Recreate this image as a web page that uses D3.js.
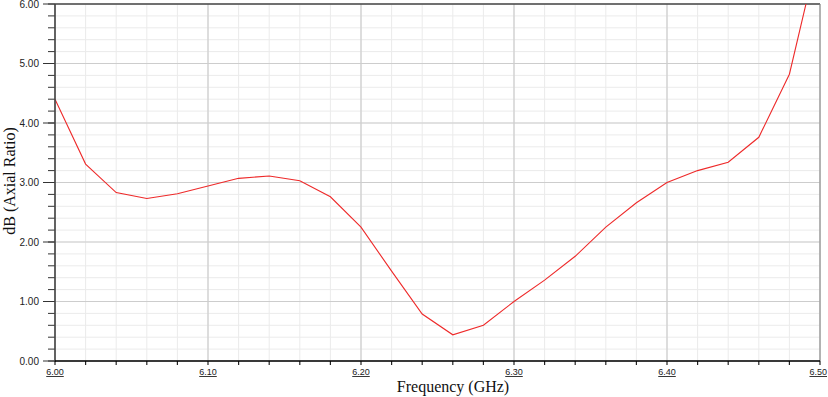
<!DOCTYPE html>
<html>
<head>
<meta charset="utf-8">
<script src="https://cdn.jsdelivr.net/npm/d3@7"></script>
<style>
  body { margin: 0; background: #fff; }
  svg { display: block; }
</style>
</head>
<body>
<svg id="chart" width="828" height="397"></svg>
<script>
// frequency samples (GHz) and axial ratio (dB)
const freqs = [6.00, 6.02, 6.04, 6.06, 6.08, 6.10, 6.12, 6.14, 6.16, 6.18, 6.20,
  6.22, 6.24, 6.26, 6.28, 6.30, 6.32, 6.34, 6.36, 6.38, 6.40,
  6.42, 6.44, 6.46, 6.48, 6.50];
const axialRatio = [4.40, 3.31, 2.83, 2.73, 2.81, 2.94, 3.07, 3.11, 3.03, 2.76, 2.25,
  1.51, 0.79, 0.44, 0.60, 1.00, 1.36, 1.76, 2.25, 2.66, 3.00,
  3.20, 3.34, 3.76, 4.82, 7.00];
const xTicks = [6.00, 6.10, 6.20, 6.30, 6.40, 6.50];
const yTicks = [0, 1, 2, 3, 4, 5, 6];

const svg = d3.select('#chart'),
  pLeft = 55, pRight = 820, pTop = 4, pBottom = 361;

const x = d3.scaleLinear().domain([6.0, 6.5]).range([pLeft, pRight]);
const y = d3.scaleLinear().domain([0, 6]).range([pBottom, pTop]);

const minorX = d3.range(0, 26).map(i => 6.0 + i * 0.02);
const minorY = d3.range(0, 31).map(i => i * 0.2);

// grid
const grid = svg.append('g');
grid.selectAll('.vminor').data(minorX).join('line')
  .attr('x1', d => x(d)).attr('x2', d => x(d))
  .attr('y1', pTop).attr('y2', pBottom)
  .style('stroke', '#ebebeb').style('stroke-width', 1);
grid.selectAll('.hminor').data(minorY).join('line')
  .attr('y1', d => y(d)).attr('y2', d => y(d))
  .attr('x1', pLeft).attr('x2', pRight)
  .style('stroke', '#ebebeb').style('stroke-width', 1);
grid.selectAll('.vmajor').data(xTicks).join('line')
  .attr('x1', d => x(d)).attr('x2', d => x(d))
  .attr('y1', pTop).attr('y2', pBottom)
  .style('stroke', '#cdcdcd').style('stroke-width', 1.2);
grid.selectAll('.hmajor').data(yTicks).join('line')
  .attr('y1', d => y(d)).attr('y2', d => y(d))
  .attr('x1', pLeft).attr('x2', pRight)
  .style('stroke', '#cdcdcd').style('stroke-width', 1.2);

// frame: black top, grey right
svg.append('line').attr('x1', pLeft).attr('x2', pRight).attr('y1', pTop).attr('y2', pTop)
  .style('stroke', '#000').style('stroke-width', 1.2);
svg.append('line').attr('x1', pRight).attr('x2', pRight).attr('y1', pTop).attr('y2', pBottom)
  .style('stroke', '#888').style('stroke-width', 1);

// data line, clipped to plot
svg.append('clipPath').attr('id', 'clip').append('rect')
  .attr('x', pLeft).attr('y', pTop).attr('width', pRight - pLeft).attr('height', pBottom - pTop);

const line = d3.line().x(d => x(d[0])).y(d => y(d[1]));
svg.append('path')
  .datum(d3.zip(freqs, axialRatio))
  .attr('clip-path', 'url(#clip)')
  .attr('d', line)
  .style('fill', 'none')
  .style('stroke', '#ee2a2a')
  .style('stroke-width', 1.1);

// y axis
const yAxis = svg.append('g');
yAxis.selectAll('.ymin').data(minorY).join('line')
  .attr('x1', pLeft - 7).attr('x2', pLeft)
  .attr('y1', d => y(d)).attr('y2', d => y(d))
  .style('stroke', '#333').style('stroke-width', 1);
yAxis.selectAll('.ymaj').data(yTicks).join('line')
  .attr('x1', pLeft - 12).attr('x2', pLeft)
  .attr('y1', d => y(d)).attr('y2', d => y(d))
  .style('stroke', '#333').style('stroke-width', 1);
yAxis.append('line').attr('x1', pLeft).attr('x2', pLeft).attr('y1', pTop).attr('y2', pBottom + 1)
  .style('stroke', '#444').style('stroke-width', 1.6);
yAxis.selectAll('text').data(yTicks).join('text')
  .attr('x', pLeft - 16).attr('y', d => y(d) + 3.5)
  .attr('text-anchor', 'end')
  .style('font-family', '"Liberation Sans", Arial, sans-serif')
  .style('font-size', '10px')
  .style('fill', '#222')
  .text(d => d3.format('.2f')(d));

// x axis
const xAxis = svg.append('g');
xAxis.selectAll('.xmin').data(minorX).join('line')
  .attr('x1', d => x(d)).attr('x2', d => x(d))
  .attr('y1', pBottom).attr('y2', pBottom + 4)
  .style('stroke', '#222').style('stroke-width', 1.2);
xAxis.append('line').attr('x1', pLeft).attr('x2', pRight).attr('y1', pBottom).attr('y2', pBottom)
  .style('stroke', '#000').style('stroke-width', 1.6);
xAxis.selectAll('text').data(xTicks).join('text')
  .attr('x', (d, i) => i === xTicks.length - 1 ? 827 : x(d))
  .attr('y', pBottom + 14)
  .attr('text-anchor', (d, i) => i === xTicks.length - 1 ? 'end' : 'middle')
  .style('font-family', '"Liberation Sans", Arial, sans-serif')
  .style('font-size', '9px')
  .style('text-decoration', 'underline')
  .style('fill', '#222')
  .text(d => d3.format('.2f')(d));

// titles
svg.append('text')
  .attr('x', 453).attr('y', 392)
  .attr('text-anchor', 'middle')
  .style('font-family', '"Liberation Serif", "Times New Roman", serif')
  .style('font-size', '16px')
  .style('fill', '#111')
  .text('Frequency (GHz)');
svg.append('text')
  .attr('transform', 'translate(15,181) rotate(-90)')
  .attr('text-anchor', 'middle')
  .style('font-family', '"Liberation Serif", "Times New Roman", serif')
  .style('font-size', '16px')
  .style('fill', '#111')
  .text('dB (Axial Ratio)');
</script>
</body>
</html>
